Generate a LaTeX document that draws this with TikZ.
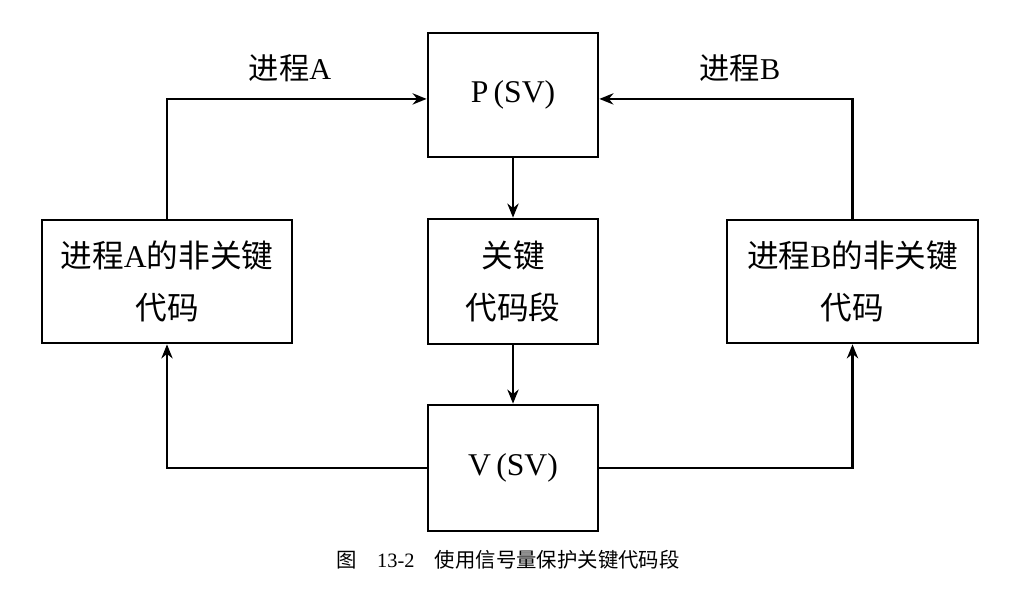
\documentclass[tikz,border=0pt]{standalone}
\usepackage{fontspec}
\setmainfont{Liberation Serif}
\newfontfamily\cjk{Noto Sans CJK SC}
\usetikzlibrary{arrows.meta}
\tikzset{
    box/.style={draw, line width=1.9pt, inner sep=0pt, align=center,
        font=\fontsize{22.5}{37}\selectfont},
    flow/.style={line width=1.8pt, -{Stealth[length=10pt, width=8pt]}},
    lab/.style={inner sep=0pt, font=\fontsize{21.5}{26}\selectfont}
}
\begin{document}
\begin{tikzpicture}[x=0.025cm, y=-0.025cm]
    \fill[white] (0,0) rectangle (1014,589);
    \useasboundingbox (0,0) rectangle (1014,589);
    \node[box, minimum width=4.25cm, minimum height=3.1cm] (p) at (513,95) {P\,(SV)};
    \node[box, minimum width=4.25cm, minimum height=3.125cm] (crit) at (513,281.5) {{\cjk 关键}\\{\cjk 代码段}};
    \node[box, minimum width=4.25cm, minimum height=3.15cm] (v) at (513,468) {V\,(SV)};
    \node[box, minimum width=6.25cm, minimum height=3.075cm] (codeA) at (167,281.5) {{\cjk 进程}A{\cjk 的非关键}\\{\cjk 代码}};
    \node[box, minimum width=6.275cm, minimum height=3.075cm] (codeB) at (852.5,281.5) {{\cjk 进程}B{\cjk 的非关键}\\{\cjk 代码}};
    \node[lab] (labA) at (290,68) {{\cjk 进程}A};
    \node[lab] (labB) at (740,68) {{\cjk 进程}B};
    \node[inner sep=0pt, font=\fontsize{14.5}{18}\selectfont] (cap) at (508,560) {{\cjk 图}\quad 13-2\quad{\cjk 使用信号量保护关键代码段}};
    \draw[flow] (codeA.north) |- ([yshift=-2.8pt]p.west);
    \draw[flow] (codeB.north) |- ([yshift=-2.8pt]p.east);
    \draw[flow] (p) -- (crit);
    \draw[flow] (crit) -- (v);
    \draw[flow] (v.west) -| (codeA.south);
    \draw[flow] (v.east) -| (codeB.south);
\end{tikzpicture}
\end{document}
